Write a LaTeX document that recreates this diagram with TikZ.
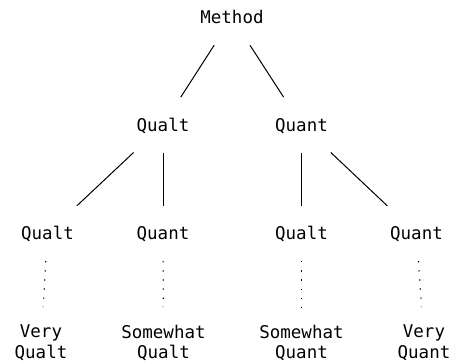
\documentclass[tikz,border=0pt]{standalone}
\usepackage{fontspec}
\newfontfamily\monofont{DejaVu Sans Mono}
\begin{document}
\begin{tikzpicture}[x=1pt,y=-1pt,
  every node/.style={font=\monofont\fontsize{17.5}{20.5}\selectfont},
  tnode/.style={inner sep=0pt, text height=12.8pt, text depth=0pt, minimum height=55pt, minimum width=70pt},
  leaf/.style={align=center, anchor=north, inner xsep=2pt, inner ysep=18pt},
  edge/.style={line width=1pt},
  dotedge/.style={line width=1.2pt, dash pattern=on 1.2pt off 7.9pt}]
\useasboundingbox (0,0) rectangle (451,364);
\node[tnode] (m) at (232,17.5) {Method};
\node[tnode] (l) at (163,124.8) {Qualt};
\node[tnode] (r) at (301.5,124.8) {Quant};
\node[tnode] (ll) at (47.5,233.5) {Qualt};
\node[tnode] (lr) at (163,233.5) {Quant};
\node[tnode] (rl) at (301.5,233.5) {Qualt};
\node[tnode] (rr) at (416.5,233.5) {Quant};
\node[leaf] (bll) at (41,307) {Very\\Qualt};
\node[leaf] (blr) at (163.5,307) {Somewhat\\Qualt};
\node[leaf] (brl) at (301.5,307) {Somewhat\\Quant};
\node[leaf] (brr) at (424,307) {Very\\Quant};
\draw[edge] (m) -- (l);
\draw[edge] (m) -- (r);
\draw[edge] (l) -- (ll);
\draw[edge] (l) -- (lr);
\draw[edge] (r) -- (rl);
\draw[edge] (r) -- (rr);
\draw[dotedge] (ll) -- (bll);
\draw[dotedge] (lr) -- (blr);
\draw[dotedge] (rl) -- (brl);
\draw[dotedge] (rr) -- (brr);
\end{tikzpicture}
\end{document}
